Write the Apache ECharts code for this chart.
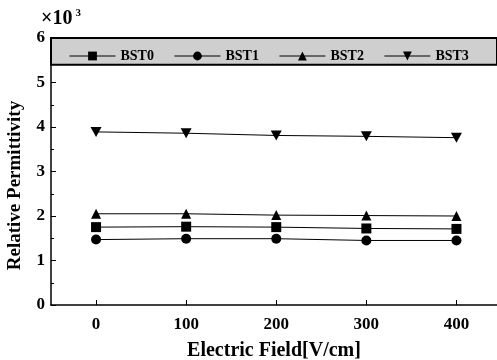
<!DOCTYPE html>
<html><head><meta charset="utf-8">
<script src="https://cdn.jsdelivr.net/npm/echarts@6/dist/echarts.min.js"></script>
<style>html,body{margin:0;padding:0;background:#fff}#c{width:497px;height:360px}</style>
</head><body><div id="c"></div>
<script>
const fields = [0, 100, 200, 300, 400];
const seriesNames = ['BST0', 'BST1', 'BST2', 'BST3'];
const bst0 = [1.75, 1.76, 1.75, 1.72, 1.71];
const bst1 = [1.47, 1.49, 1.49, 1.45, 1.45];
const bst2 = [2.05, 2.05, 2.02, 2.01, 2.00];
const bst3 = [3.89, 3.86, 3.81, 3.79, 3.76];
const symbols = ['rect', 'circle', 'triangle', 'path://M0,0 L10,0 L5,9 Z'];
const allValues = [bst0, bst1, bst2, bst3];
const legendBand = [5.4, 6];

const font = '"Liberation Serif", "DejaVu Serif", serif';
const chart = echarts.init(document.getElementById('c'));
const series = seriesNames.map((n, i) => ({
  name: n, type: 'line',
  data: fields.map((f, j) => [f, allValues[i][j]]),
  symbol: symbols[i], symbolSize: i === 3 ? [11, 10] : 10,
  lineStyle: { color: '#000', width: 1 },
  itemStyle: { color: '#000' },
  z: 3
}));
series[0].markArea = {
  silent: true,
  itemStyle: { color: '#cfcfcf', borderColor: '#000', borderWidth: 2 },
  data: [[{ coord: [-50, legendBand[0]] }, { coord: [445, legendBand[1]] }]]
};
chart.setOption({
  animation: false,
  backgroundColor: '#fff',
  textStyle: { fontFamily: font },
  title: {
    text: '{a|×10}{b|3}', left: 36, top: 3,
    textStyle: { rich: { a: { fontSize: 20, fontWeight: 'bold', fontFamily: font, color: '#000' }, b: { fontSize: 11, fontWeight: 'bold', fontFamily: font, color: '#000', verticalAlign: 'top', padding: [0,0,10,3] } } }
  },
  legend: {
    data: seriesNames,
    left: 64, top: 44, width: 433, itemGap: 20, itemWidth: 46, itemHeight: 11,
    textStyle: { fontFamily: font, fontWeight: 'bold', fontSize: 14, color: '#000' },
    itemStyle: { color: '#000' },
    lineStyle: { color: '#000', width: 1 }
  },
  grid: { left: 51, right: 0, top: 38, bottom: 55, containLabel: false, outerBoundsMode: 'none' },
  xAxis: {
    type: 'value', min: -50, max: 445, interval: 100,
    name: 'Electric Field[V/cm]', nameLocation: 'middle', nameGap: 36,
    nameTextStyle: { fontFamily: font, fontWeight: 'bold', fontSize: 20, color: '#000' },
    axisLine: { show: true, onZero: false, lineStyle: { color: '#000', width: 1.5 } },
    axisTick: { show: true, inside: true, length: 5, lineStyle: { color: '#000' }, customValues: fields },
    minorTick: { show: true, splitNumber: 2, length: 3, lineStyle: { color: '#000' } },
    axisLabel: { fontFamily: font, fontWeight: 'bold', fontSize: 17, color: '#000', margin: 11, customValues: fields },
    splitLine: { show: false }
  },
  yAxis: {
    type: 'value', min: 0, max: 6, interval: 1,
    name: 'Relative Permittivity', nameLocation: 'middle', nameGap: 26,
    nameTextStyle: { fontFamily: font, fontWeight: 'bold', fontSize: 19, color: '#000', padding: [0, 28, 0, 0] },
    axisLine: { show: true, onZero: false, lineStyle: { color: '#000', width: 1.5 } },
    axisTick: { show: true, inside: true, length: 5, lineStyle: { color: '#000' } },
    minorTick: { show: true, splitNumber: 2, length: 3, lineStyle: { color: '#000' } },
    axisLabel: { fontFamily: font, fontWeight: 'bold', fontSize: 17, color: '#000', margin: 6 },
    splitLine: { show: false }
  },
  series: series
});
</script></body></html>
